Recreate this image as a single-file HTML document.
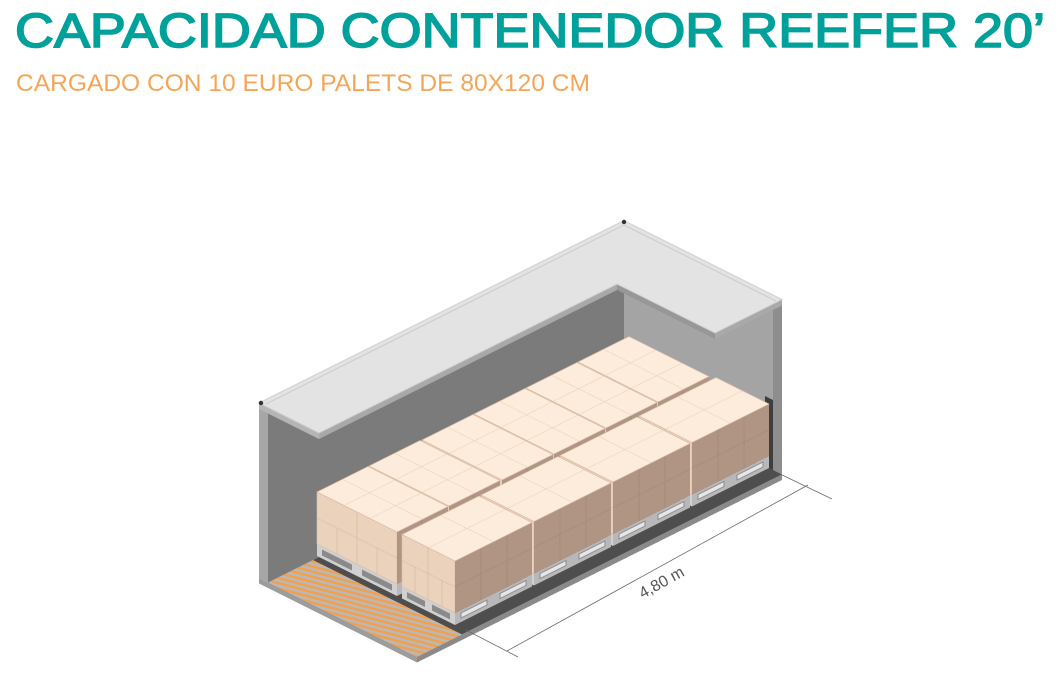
<!DOCTYPE html>
<html><head><meta charset="utf-8"><style>
html,body{margin:0;padding:0;background:#fff;width:1061px;height:676px;overflow:hidden}
svg{display:block}
</style></head><body>
<svg width="1061" height="676" viewBox="0 0 1061 676" xmlns="http://www.w3.org/2000/svg">
<defs>
<pattern id="stripes" patternUnits="userSpaceOnUse" width="5" height="5" patternTransform="rotate(15)">
<rect width="5" height="5" fill="#b9b9b9"/><rect width="5" height="2.5" fill="#f2a04d"/>
</pattern>
<g id="backBox">
 <rect x="0" y="-12" width="80" height="12" transform="matrix(1,0.5,0,1,0,0)" fill="#d0d0d0"/>
 <rect x="5" y="-9" width="30" height="6" transform="matrix(1,0.5,0,1,0,0)" fill="#8a8a8a"/>
 <rect x="45" y="-9" width="30" height="6" transform="matrix(1,0.5,0,1,0,0)" fill="#8a8a8a"/>
 <rect x="0" y="-12" width="51" height="12" transform="matrix(1,-0.5,0,1,80,40)" fill="#b8b8b8"/>
 <rect x="0" y="-64" width="80" height="52" transform="matrix(1,0.5,0,1,0,0)" fill="#ebd2bc" stroke="#d9bca5" stroke-width="0.6"/>
 <path d="M0,-38H80M40,-64V-12M20,-38V-12M60,-38V-12" transform="matrix(1,0.5,0,1,0,0)" stroke="#d4b69f" stroke-width="0.6" fill="none"/>
 <rect x="0" y="-64" width="51" height="52" transform="matrix(1,-0.5,0,1,80,40)" fill="#b19584"/>
 <path d="M0,-38H51M25,-64V-12" transform="matrix(1,-0.5,0,1,80,40)" stroke="#a08574" stroke-width="0.6" fill="none"/>
 <g transform="translate(0,-64) matrix(1,-0.5,1,0.5,0,0)">
  <rect width="51" height="80" fill="#fdebdc" stroke="#d8bba4" stroke-width="0.8"/>
  <path d="M25.5,0V80M0,27H51M0,53H51" stroke="#e6cdb8" stroke-width="0.6" fill="none"/>
 </g>
</g>
<g id="frontBox">
 <rect x="0" y="-12" width="53" height="12" transform="matrix(1,0.5,0,1,0,0)" fill="#d0d0d0"/>
 <rect x="5" y="-9" width="18" height="6" transform="matrix(1,0.5,0,1,0,0)" fill="#8a8a8a"/>
 <rect x="30" y="-9" width="18" height="6" transform="matrix(1,0.5,0,1,0,0)" fill="#8a8a8a"/>
 <rect x="0" y="-12" width="77" height="12" transform="matrix(1,-0.5,0,1,53,26.5)" fill="#b8b8b8"/>
 <rect x="6" y="-9" width="26" height="5" transform="matrix(1,-0.5,0,1,53,26.5)" fill="#e6e6e6" stroke="#8a8a8a" stroke-width="1"/>
 <rect x="45" y="-9" width="26" height="5" transform="matrix(1,-0.5,0,1,53,26.5)" fill="#e6e6e6" stroke="#8a8a8a" stroke-width="1"/>
 <rect x="0" y="-64" width="53" height="52" transform="matrix(1,0.5,0,1,0,0)" fill="#ebd2bc" stroke="#d9bca5" stroke-width="0.6"/>
 <path d="M0,-38H53M26,-64V-12M13,-38V-12M40,-38V-12" transform="matrix(1,0.5,0,1,0,0)" stroke="#d4b69f" stroke-width="0.6" fill="none"/>
 <rect x="0" y="-64" width="77" height="52" transform="matrix(1,-0.5,0,1,53,26.5)" fill="#b19584"/>
 <path d="M0,-38H77M26,-64V-12M52,-64V-12" transform="matrix(1,-0.5,0,1,53,26.5)" stroke="#a08574" stroke-width="0.6" fill="none"/>
 <g transform="translate(0,-64) matrix(1,-0.5,1,0.5,0,0)">
  <rect width="77" height="53" fill="#fdebdc" stroke="#d8bba4" stroke-width="0.8"/>
  <path d="M38.5,0V53M0,26.5H77" stroke="#e6cdb8" stroke-width="0.6" fill="none"/>
 </g>
</g>
</defs>

<text x="15" y="47" font-family="Liberation Sans, sans-serif" font-size="48" fill="#00a19a" stroke="#00a19a" stroke-width="1.6" textLength="1030" lengthAdjust="spacingAndGlyphs">CAPACIDAD CONTENEDOR REEFER 20’</text>
<text x="16" y="91" font-family="Liberation Sans, sans-serif" font-size="24" fill="#f5a557" textLength="574" lengthAdjust="spacingAndGlyphs">CARGADO CON 10 EURO PALETS DE 80X120 CM</text>

<polygon points="268,582.5 633,400 633,225 268,407.5" fill="#7b7b7b"/>
<polygon points="259,578 268,582.5 268,407.5 259,403" fill="#a6a6a6"/>
<polygon points="624,404.5 773,479 773,304 624,229.5" fill="#a4a4a4"/>
<polygon points="773,479 782,474.5 782,299.5 773,304" fill="#8e8e8e"/>
<polygon points="765,475 773,479 773,400 765,396" fill="#3e3e3e"/>
<polygon points="268,582.5 633,400 782,474.5 417,657" fill="#4e4e4e"/>
<polygon points="268,582.5 313,560 462,634.5 417,657" fill="url(#stripes)"/>
<polygon points="417,657 782,474.5 782,480 417,662.5" fill="#8a8a8a"/>
<polygon points="259,578 268,582.5 417,657 417,662.5 259,583.5" fill="#9c9c9c"/>

<use href="#backBox" x="578" y="426"/>
<use href="#backBox" x="526" y="452"/>
<use href="#backBox" x="474" y="478"/>
<use href="#backBox" x="422" y="504"/>
<use href="#backBox" x="369" y="530"/>
<use href="#backBox" x="317" y="556"/>
<use href="#frontBox" x="639" y="480"/>
<use href="#frontBox" x="560" y="519.5"/>
<use href="#frontBox" x="481" y="559"/>
<use href="#frontBox" x="402" y="598.5"/>

<polygon points="319,433 617,284 617,290 319,439" fill="#a9a9a9"/>
<polygon points="617,284 715,333 715,339 617,290" fill="#979797"/>
<polygon points="715,333 782,299.5 782,305.5 715,339" fill="#a9a9a9"/>
<polygon points="259,403 319,433 319,439 259,409" fill="#b5b5b5"/>
<polygon points="259,403 624,220.5 782,299.5 715,333 617,284 319,433" fill="#e3e3e3" stroke="#cfcfcf" stroke-width="1"/>
<polyline points="266,404 624,225 776,301" fill="none" stroke="#c8c8c8" stroke-width="0.8"/>
<circle cx="261" cy="403" r="2.2" fill="#2a3440"/>
<circle cx="624" cy="222" r="2.2" fill="#2a3440"/>

<g stroke="#6a6a6a" stroke-width="0.8" fill="none">
<line x1="466" y1="630" x2="518" y2="657"/>
<line x1="780" y1="474" x2="832" y2="499"/>
<line x1="507" y1="651" x2="808" y2="485"/>
</g>
<text x="0" y="0" transform="translate(664,587) rotate(-29)" text-anchor="middle" font-family="Liberation Sans, sans-serif" font-size="16" fill="#555">4,80 m</text>
</svg>
</body></html>
